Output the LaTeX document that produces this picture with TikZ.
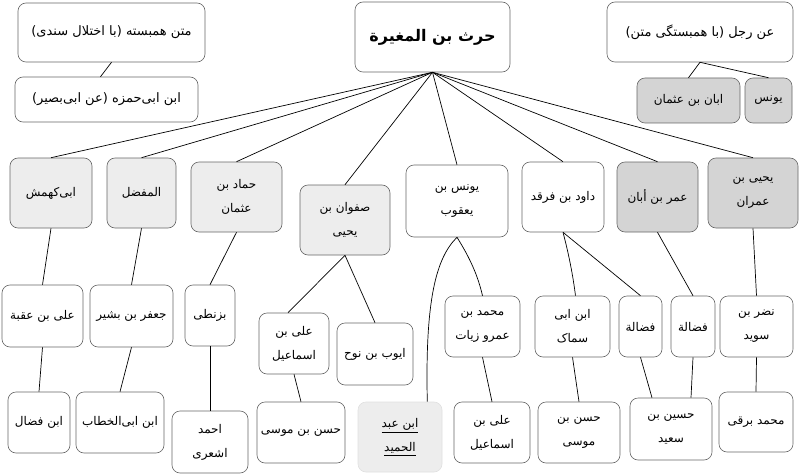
\documentclass[tikz,border=0pt]{standalone}
\usepackage{fontspec}
\newfontfamily\arabicfont[Script=Arabic]{DejaVu Sans}
\TeXXeTstate=1
\usetikzlibrary{calc}
\newcommand\artxt[1]{\beginR #1\endR}
\tikzset{
  box/.style={draw=black!60, rounded corners=8pt, line width=0.6pt, inner sep=1pt,
    align=center, font=\arabicfont\fontsize{12}{24}\selectfont, text=black, fill=white},
  dg/.style={box, fill=black!17},
  lg/.style={box, fill=black!7},
  conn/.style={line width=0.7pt, draw=black},
}
\begin{document}
\begin{tikzpicture}[x=1pt,y=-1pt]
\useasboundingbox (0,0) rectangle (800,476);
% top row
\node[box, minimum width=187pt, minimum height=59pt, font=\arabicfont\fontsize{13}{16}\selectfont] (A) at (111.5,32.5) {\artxt{متن همبسته (با اختلال سندی)}};
\node[box, minimum width=183pt, minimum height=45pt, font=\arabicfont\fontsize{13}{16}\selectfont] (B) at (106.5,99.5) {\artxt{ابن ابی‌حمزه (عن ابی‌بصیر)}};
\node[box, minimum width=155pt, minimum height=70pt, font=\arabicfont\bfseries\fontsize{16}{20}\selectfont] (root) at (432.5,37) {\artxt{حرث بن المغيرة}};
\node[box, minimum width=186pt, minimum height=60pt, font=\arabicfont\fontsize{13}{16}\selectfont] (C) at (700,32) {\artxt{عن رجل (با همبستگی متن)}};
\node[dg, minimum width=103pt, minimum height=45pt] (aban) at (688.5,100.5) {\artxt{ابان بن عثمان}};
\node[dg, minimum width=47pt, minimum height=45pt] (yunus) at (768.5,100.5) {\artxt{يونس}};
% middle row
\node[lg, minimum width=82pt, minimum height=70pt] (M1) at (51,193) {\artxt{ابی‌کهمش}};
\node[lg, minimum width=69pt, minimum height=70pt] (M2) at (141.5,193) {\artxt{المفضل}};
\node[lg, minimum width=91pt, minimum height=70pt] (M3) at (236.5,197) {\artxt{حماد بن}\\\artxt{عثمان}};
\node[lg, minimum width=90pt, minimum height=70pt] (M4) at (345,220) {\artxt{صفوان بن}\\\artxt{یحیی}};
\node[box, minimum width=102pt, minimum height=72pt] (M5) at (457,201) {\artxt{يونس بن}\\\artxt{يعقوب}};
\node[box, minimum width=82pt, minimum height=70pt] (M6) at (563,197) {\artxt{داود بن فرقد}};
\node[dg, minimum width=81pt, minimum height=70pt] (M7) at (657.5,197) {\artxt{عمر بن أبان}};
\node[dg, minimum width=90pt, minimum height=70pt] (M8) at (753,193) {\artxt{یحیی بن}\\\artxt{عمران}};
% third row
\node[box, minimum width=81pt, minimum height=62pt] (R1) at (42.5,316) {\artxt{علی بن عقبة}};
\node[box, minimum width=83pt, minimum height=62pt] (R2) at (131.5,316) {\artxt{جعفر بن بشير}};
\node[box, minimum width=50pt, minimum height=61pt] (R3) at (210,315.5) {\artxt{بزنطی}};
\node[box, minimum width=70pt, minimum height=61pt] (R4) at (294,343.5) {\artxt{علی بن}\\\artxt{اسماعیل}};
\node[box, minimum width=76pt, minimum height=62pt] (R5) at (375,354) {\artxt{ایوب بن نوح}};
\node[box, minimum width=75pt, minimum height=61pt] (R6) at (482.5,326.5) {\artxt{محمد بن}\\\artxt{عمرو زیات}};
\node[box, minimum width=75pt, minimum height=61pt] (R7) at (572.5,326.5) {\artxt{ابن ابی}\\\artxt{سماک}};
\node[box, minimum width=43pt, minimum height=61pt] (R8) at (640.5,326.5) {\artxt{فضالة}};
\node[box, minimum width=44pt, minimum height=61pt] (R9) at (693,326.5) {\artxt{فضالة}};
\node[box, minimum width=73pt, minimum height=61pt] (R10) at (756.5,326.5) {\artxt{نضر بن}\\\artxt{سوید}};
% bottom row
\node[box, minimum width=62pt, minimum height=61pt] (B1) at (39,422.5) {\artxt{ابن فضال}};
\node[box, minimum width=88pt, minimum height=61pt] (B2) at (120,422.5) {\artxt{ابن ابی‌الخطاب}};
\node[box, minimum width=76pt, minimum height=62pt] (B3) at (210,442) {\artxt{احمد}\\\artxt{اشعری}};
\node[box, minimum width=88pt, minimum height=61pt] (B4) at (301,432.5) {\artxt{حسن بن موسی}};
\node[lg, draw=black!12, minimum width=84pt, minimum height=70pt] (B5) at (400,437) {\underline{\artxt{ابن عبد}}\\\underline{\artxt{الحمید}}};
\node[box, minimum width=76pt, minimum height=61pt] (B6) at (492,432.5) {\artxt{علی بن}\\\artxt{اسماعیل}};
\node[box, minimum width=82pt, minimum height=61pt] (B7) at (579,432.5) {\artxt{حسن بن}\\\artxt{موسی}};
\node[box, minimum width=82pt, minimum height=62pt] (B8) at (671,429) {\artxt{حسین بن}\\\artxt{سعید}};
\node[box, minimum width=74pt, minimum height=60pt] (B9) at (756,422) {\artxt{محمد برقی}};
% connectors
\draw[conn] (A.south) -- ($(B.north)+(-6,0)$);
\draw[conn] (C.south) -- (aban.north);
\draw[conn] (C.south) -- (yunus.north);
\foreach \m in {M1,M2,M3,M4,M5,M6,M7,M8}
  \draw[conn] (root.south) -- (\m.north);
\draw[conn] (M1.south) -- (R1.north);
\draw[conn] (M2.south) -- (R2.north);
\draw[conn] (M3.south) -- (R3.north);
\draw[conn] (M4.south) -- ($(R4.north)+(-6,0)$);
\draw[conn] (M4.south) -- (R5.north);
\draw[conn] (M5.south) .. controls (436,258) and (425,300) .. ($(B5.north east)+(-15,0)$);
\draw[conn] (M5.south) .. controls (470,258) and (478,276) .. (R6.north);
\draw[conn] (M6.south) .. controls (569,255) and (573,276) .. ($(R7.north)+(3,0)$);
\draw[conn] (M6.south) -- (R8.north);
\draw[conn] (M7.south) -- (R9.north);
\draw[conn] (M8.south) -- (R10.north);
\draw[conn] (R1.south) -- (B1.north);
\draw[conn] (R2.south) -- (B2.north);
\draw[conn] (R3.south) -- (B3.north);
\draw[conn] (R4.south) -- (B4.north);
\draw[conn] (R6.south) -- (B6.north);
\draw[conn] (R7.south) -- (B7.north);
\draw[conn] (R8.south) -- ($(B8.north)+(-19,0)$);
\draw[conn] (R9.south) -- ($(B8.north)+(20,0)$);
\draw[conn] (R10.south) -- (B9.north);
\end{tikzpicture}
\end{document}
